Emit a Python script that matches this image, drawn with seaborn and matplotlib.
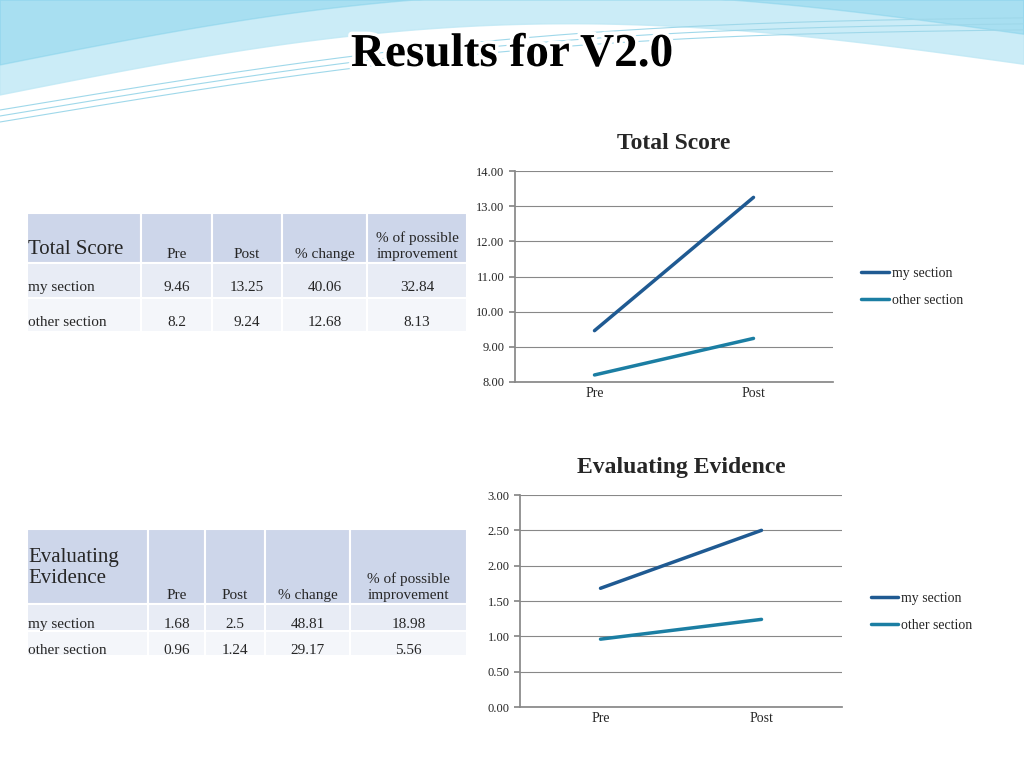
import numpy as np
import pandas as pd
import seaborn as sns
import matplotlib.pyplot as plt
from matplotlib.patches import Rectangle
import matplotlib.patheffects as pe

phases = ["Pre", "Post"]
groups = ["my section", "other section"]
total_my = [9.46, 13.25]
total_other = [8.2, 9.24]
eval_my = [1.68, 2.5]
eval_other = [0.96, 1.24]
total_rows = [["my section", "9.46", "13.25", "40.06", "32.84"],
              ["other section", "8.2", "9.24", "12.68", "8.13"]]
eval_rows = [["my section", "1.68", "2.5", "48.81", "18.98"],
             ["other section", "0.96", "1.24", "29.17", "5.56"]]

sns.set_theme(style="white")
plt.rcParams['font.family'] = ['Liberation Serif', 'DejaVu Serif']
colors = {"my section": "#1f5a92", "other section": "#1b7ea3"}

W, H = 1024, 768
fig = plt.figure(figsize=(10.24, 7.68), dpi=100)

# wavy header
bg = fig.add_axes([0, 0, 1, 1], zorder=-5)
bg.set_xlim(0, W); bg.set_ylim(H, 0); bg.axis("off")
xs = np.linspace(0, W, 300)
top = 95 - 55 * np.sin(xs / W * np.pi) - xs * 0.03
bg.fill_between(xs, 0, top, color="#bfe8f5", alpha=0.8)
bg.fill_between(xs, 0, top - 30, color="#7fd0ea", alpha=0.45)
for off in [0, 6, 12]:
    bg.plot(xs, 110 - xs * 0.09 + off - 25 * np.sin(xs / W * np.pi), color="#9fd8ea", lw=0.8)
fig.text(0.5, 1 - 55 / H, "Results for V2.0", ha="center", va="center",
         fontsize=34, fontweight="bold", color="black",
         path_effects=[pe.withStroke(linewidth=5, foreground="white")])


def table(rows, cols, rh, title_lines, ypad):
    fills = ["#cdd6ea", "#e8ecf5", "#f4f6fa"]
    for r in range(3):
        for c in range(len(cols) - 1):
            bg.add_patch(Rectangle((cols[c], rh[r]), cols[c + 1] - cols[c], rh[r + 1] - rh[r],
                                   facecolor=fills[r], edgecolor="white", lw=1.5))
    heads = ["Pre", "Post", "% change", "% of possible\nimprovement"]
    for c, h in enumerate(heads):
        bg.text((cols[c + 1] + cols[c + 2]) / 2, rh[1] - 2, h, ha="center", va="bottom",
                fontsize=11, linespacing=1.3)
    bg.text(cols[0] + 1, ypad, title_lines, ha="left", va="center", fontsize=15, linespacing=1.2)
    for r, row in enumerate(rows):
        yc = (rh[r + 1] + rh[r + 2]) / 2 + 7
        bg.text(cols[0] + 1, yc, row[0], ha="left", va="center", fontsize=11)
        for c in range(1, 5):
            bg.text((cols[c] + cols[c + 1]) / 2, yc, row[c], ha="center", va="center", fontsize=11)


table(total_rows, [27, 141, 212, 282, 367, 467], [213, 263, 298, 332], "Total Score", 250)
table(eval_rows, [27, 148, 205, 265, 350, 467], [529, 604, 631, 656], "Evaluating\nEvidence", 568)


def chart(rect, my, other, ylim, step, title, leg_y):
    ax = fig.add_axes(rect)
    df = pd.DataFrame({"phase": phases * 2, "group": [groups[0]] * 2 + [groups[1]] * 2,
                       "value": my + other})
    sns.lineplot(data=df, x="phase", y="value", hue="group", palette=colors, lw=2.5, ax=ax,
                 sort=False)
    ax.set_xlim(-0.5, 1.5)
    ax.set_ylim(*ylim)
    ticks = np.arange(ylim[0], ylim[1] + step / 2, step)
    ax.set_yticks(ticks)
    ax.set_yticklabels([f"{t:.2f}" for t in ticks], fontsize=9)
    ax.tick_params(axis="x", labelsize=10, length=0)
    ax.set_xlabel(""); ax.set_ylabel("")
    ax.grid(axis="y", color="#888888", lw=0.8)
    for s in ["top", "right"]:
        ax.spines[s].set_visible(False)
    ax.spines["left"].set_color("#888888"); ax.spines["bottom"].set_color("#888888")
    ax.tick_params(axis="y", length=4, color="#888888", left=True)
    ax.set_title(title, fontsize=17, fontweight="bold", pad=16)
    ax.legend(loc="center left", bbox_to_anchor=(1.05, leg_y), frameon=False, fontsize=10,
              handlelength=2, handletextpad=0.2, labelspacing=1.0)
    return ax


chart([515 / W, 1 - 382 / H, 318 / W, 211 / H], total_my, total_other, (8, 14), 1,
      "Total Score", 0.45)
chart([520 / W, 1 - 707 / H, 322 / W, 212 / H], eval_my, eval_other, (0, 3), 0.5,
      "Evaluating Evidence", 0.45)

fig.savefig("out.png", dpi=100)
